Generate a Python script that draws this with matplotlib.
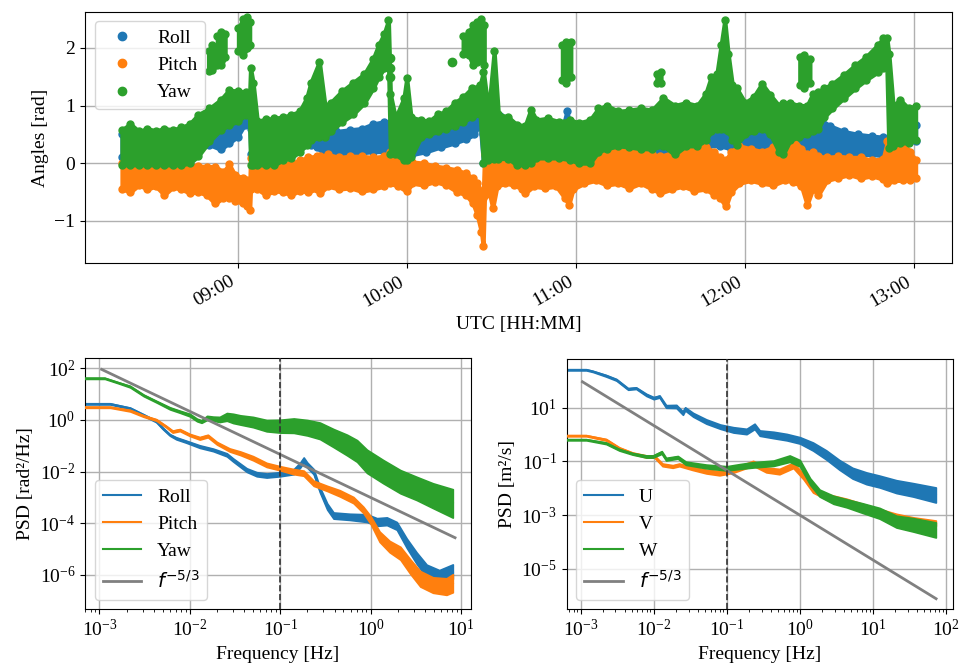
import numpy as np
import matplotlib
matplotlib.use("Agg")
import matplotlib.pyplot as plt
import matplotlib.dates as mdates
from matplotlib.lines import Line2D

plt.rcParams['font.family'] = ['Liberation Serif', 'DejaVu Serif']
plt.rcParams['font.size'] = 14
plt.rcParams['mathtext.fontset'] = 'dejavusans'

# ---------------- top panel data (minutes after 08:00 UTC, angles in rad) ----------------
roll_t = [19, 25, 30, 35, 40, 45, 50, 54, 57, 60, 62.5, 64.2, 64.7, 68, 72, 76, 80, 83, 86, 88, 91, 95,
          100, 104, 108, 112, 114, 118, 122, 127, 132, 137, 141, 144, 146, 147.2, 149, 153, 157, 162,
          167, 172, 175, 176.8, 178.5, 183, 190, 195, 200, 205, 208, 212, 218, 223, 227, 231, 235, 240,
          245, 250, 255, 260, 264, 267, 270, 275, 280, 285, 289, 293, 297, 300.5]
roll_lo = [0.10, 0.10, 0.15, 0.15, 0.20, 0.20, 0.32, 0.24, 0.35, 0.46, 0.67, 0.75, 0.15, 0.20, 0.25, 0.20,
           0.25, 0.30, 0.32, 0.28, 0.15, 0.15, 0.15, 0.18, 0.20, 0.20, 0.18, 0.15, 0.15, 0.20, 0.28, 0.35,
           0.42, 0.50, 0.70, 0.00, 0.10, 0.15, 0.15, 0.10, 0.09, 0.10, 0.10, 0.20, 0.10, 0.12, 0.15, 0.20,
           0.20, 0.15, 0.03, 0.05, 0.20, 0.20, 0.30, 0.30, 0.25, 0.21, 0.25, 0.25, 0.25, 0.30, 0.20, 0.20,
           0.18, 0.15, 0.15, 0.15, 0.13, 0.20, 0.35, 0.38]
roll_hi = [0.50, 0.50, 0.50, 0.50, 0.55, 0.60, 0.70, 0.70, 0.80, 0.90, 0.98, 1.04, 0.60, 0.60, 0.65, 0.60,
           0.70, 0.84, 0.84, 0.70, 0.50, 0.55, 0.58, 0.60, 0.68, 0.72, 0.70, 0.60, 0.55, 0.55, 0.70, 0.85,
           0.95, 1.20, 1.33, 0.50, 0.80, 0.82, 0.70, 0.50, 0.43, 0.50, 0.55, 0.90, 0.55, 0.50, 0.55, 0.60,
           0.55, 0.50, 0.45, 0.55, 0.60, 0.55, 0.70, 0.78, 0.70, 0.73, 0.65, 0.60, 0.75, 0.78, 0.78, 0.75,
           0.65, 0.55, 0.50, 0.47, 0.45, 0.50, 0.65, 0.67]

pitch_t = [19, 22, 25, 28, 31, 34, 37, 40, 43, 46, 49, 52, 55, 57, 59, 62, 63.5, 64.3, 64.6, 67, 70, 73,
           76, 79, 82, 85, 88, 89.2, 92, 96, 100, 104, 108, 112, 114, 117, 120, 122, 126, 130, 134, 138,
           141, 143.5, 145, 146.5, 147.1, 147.6, 149, 150.5, 152, 155, 158, 161, 162, 165, 169, 173, 176,
           177.5, 179, 183, 187, 191, 195, 199, 203, 207, 210, 214, 218, 222, 226, 229, 231, 233.2, 235,
           238, 242, 246, 250, 254, 257, 260, 262, 264, 266, 269, 273, 277, 281, 285, 289, 290.5, 293,
           296, 298.5, 300.5]
pitch_lo = [-0.45, -0.50, -0.38, -0.45, -0.40, -0.55, -0.42, -0.45, -0.52, -0.50, -0.55, -0.70, -0.60,
            -0.60, -0.65, -0.70, -0.75, -0.81, -0.45, -0.45, -0.55, -0.48, -0.50, -0.55, -0.48, -0.50,
            -0.45, -0.52, -0.40, -0.45, -0.43, -0.49, -0.45, -0.40, -0.35, -0.40, -0.49, -0.35, -0.38,
            -0.32, -0.38, -0.50, -0.55, -0.70, -0.90, -1.20, -1.44, -0.55, -0.45, -0.78, -0.40, -0.35,
            -0.38, -0.45, -0.52, -0.40, -0.43, -0.40, -0.60, -0.72, -0.45, -0.35, -0.30, -0.38, -0.35,
            -0.43, -0.35, -0.45, -0.52, -0.45, -0.40, -0.48, -0.45, -0.55, -0.60, -0.75, -0.50, -0.35,
            -0.30, -0.35, -0.38, -0.30, -0.32, -0.40, -0.72, -0.45, -0.55, -0.30, -0.25, -0.20, -0.26,
            -0.22, -0.28, -0.35, -0.30, -0.30, -0.30, -0.25]
pitch_hi = [0.00, 0.00, -0.02, 0.00, 0.00, -0.02, 0.00, 0.00, -0.03, -0.05, -0.06, -0.06, -0.15, -0.02,
            -0.20, -0.26, -0.30, -0.38, 0.09, -0.02, -0.05, 0.00, -0.02, 0.00, 0.05, 0.10, 0.12, 0.12,
            0.15, 0.10, 0.12, 0.12, 0.10, 0.12, 0.20, 0.18, 0.15, 0.02, 0.00, -0.05, -0.08, -0.12, -0.18,
            -0.26, -0.35, -0.50, -0.61, 0.15, 0.12, 0.05, 0.05, 0.00, 0.05, 0.05, 0.00, 0.09, 0.05, 0.08,
            0.00, 0.00, 0.10, 0.15, 0.20, 0.22, 0.26, 0.20, 0.22, 0.15, 0.12, 0.18, 0.28, 0.32, 0.28,
            0.20, 0.10, 0.05, 0.20, 0.30, 0.25, 0.20, 0.28, 0.20, 0.43, 0.25, 0.15, 0.20, 0.12, 0.10,
            0.12, 0.10, 0.10, 0.05, 0.08, 0.38, 0.32, 0.35, 0.20, 0.05]

yaw_t = [19, 22, 25, 28, 31, 34, 37, 40, 43, 46, 50, 54, 57, 60, 63, 64.2, 64.6, 65.5, 67, 70, 73, 76,
         79, 82, 84.5, 86, 89, 91, 93, 97, 101, 105, 108, 110, 112, 113.5, 114.2, 116, 119, 120, 121.5,
         125, 128, 131, 134, 137, 140, 143, 146, 147.2, 149, 151, 152.5, 156, 159, 162, 164, 166, 170,
         174, 178, 181, 185, 188, 191, 195, 199, 203, 207, 211, 215, 219, 223, 226, 228, 230, 231.5,
         232.8, 234, 235.5, 237, 240, 243, 246, 249, 252, 253.5, 256, 259, 262, 264, 266, 268, 271,
         275, 279, 283, 287, 289, 290.3, 291, 292.5, 295, 298, 300.5]
yaw_lo = [-0.03, -0.03, -0.03, -0.03, -0.03, -0.03, -0.03, -0.03, 0.00, 0.12, 0.38, 0.58, 0.66, 0.73,
          0.84, 0.85, -0.03, -0.03, -0.03, -0.03, -0.03, 0.05, 0.09, 0.20, 0.32, 0.40, 0.45, 0.45, 0.55,
          0.72, 0.85, 1.05, 1.30, 1.50, 1.65, 1.80, 0.15, 0.15, 0.05, 0.05, 0.10, 0.45, 0.50, 0.55, 0.60,
          0.65, 0.72, 0.80, 0.85, 0.00, 0.05, 0.08, 0.08, 0.08, -0.03, -0.03, 0.00, 0.09, 0.09, 0.09,
          0.06, 0.00, 0.00, 0.20, 0.25, 0.30, 0.28, 0.25, 0.25, 0.30, 0.15, 0.30, 0.30, 0.40, 0.55, 0.60,
          0.60, 0.60, 0.55, 0.40, 0.32, 0.50, 0.55, 0.60, 0.50, 0.20, 0.15, 0.40, 0.45, 0.50, 0.55, 0.60,
          0.80, 0.95, 1.13, 1.30, 1.45, 1.58, 1.65, 1.65, 0.26, 0.30, 0.35, 0.35, 0.40]
yaw_hi = [0.58, 0.68, 0.55, 0.60, 0.56, 0.60, 0.58, 0.62, 0.68, 0.84, 0.95, 1.10, 1.27, 1.25, 1.24,
          1.10, 1.65, 1.40, 0.73, 0.76, 0.78, 0.80, 0.84, 0.90, 1.13, 1.40, 1.76, 1.00, 1.05, 1.25, 1.40,
          1.55, 1.80, 2.05, 2.25, 2.48, 1.20, 0.78, 1.13, 1.47, 0.80, 0.75, 0.73, 0.85, 0.90, 1.05, 1.15,
          1.30, 1.35, 1.59, 0.90, 1.94, 0.85, 0.80, 0.67, 0.65, 0.93, 0.75, 0.78, 0.72, 0.75, 0.70, 0.75,
          0.95, 1.00, 0.90, 0.92, 0.95, 0.92, 1.13, 1.00, 1.05, 1.00, 1.20, 1.50, 1.55, 2.05, 2.48, 1.90,
          1.35, 1.30, 1.05, 1.15, 1.38, 1.18, 1.00, 1.05, 1.05, 1.00, 1.00, 1.20, 1.24, 1.30, 1.38, 1.53,
          1.70, 1.85, 2.05, 2.17, 2.17, 1.90, 1.00, 1.10, 0.95, 1.00]

# detached yaw clusters (NaN separates clusters)
yaw_blob_t = [49.7, 51.0, 52.7, np.nan, 52.8, 54.3, 55.6, np.nan, 60.3, 62.0, 63.5, 64.3, np.nan,
              140.0, 142.0, 143.5, 145.0, 146.5, 147.5, np.nan, 175.2, 176.5, 178.2, np.nan,
              208.7, 210.2, np.nan, 259.4, 261.0, 263.0]
yaw_blob_lo = [1.60, 1.62, 1.70, np.nan, 1.75, 1.70, 1.85, np.nan, 1.95, 1.88, 2.00, 2.05, np.nan,
               1.90, 1.88, 1.70, 1.75, 1.80, 1.70, np.nan, 1.45, 1.40, 1.50, np.nan,
               1.40, 1.40, np.nan, 1.35, 1.30, 1.40]
yaw_blob_hi = [1.95, 2.05, 2.00, np.nan, 2.20, 2.28, 2.25, np.nan, 2.35, 2.50, 2.54, 2.45, np.nan,
               2.20, 2.28, 2.40, 2.45, 2.51, 2.40, np.nan, 2.05, 2.11, 2.10, np.nan,
               1.55, 1.59, np.nan, 1.85, 1.88, 1.80]
yaw_dot_t = [114.1, 114.1, 114.1, 136.0]
yaw_dot_v = [1.82, 1.65, 1.50, 1.76]

# ---------------- PSD data: log10(frequency [Hz]), log10(PSD), half band width (decades) ----------------
ang_roll_lf = [-3.16, -2.88, -2.66, -2.51, -2.37, -2.30, -2.22, -2.15, -2.04, -1.89, -1.74, -1.59, -1.52,
               -1.37, -1.26, -1.15, -1.0, -0.85, -0.78, -0.74, -0.70, -0.63, -0.56, -0.48, -0.41, -0.23,
               -0.04, 0.07, 0.18, 0.29, 0.40, 0.51, 0.62, 0.76, 0.91]
ang_roll_lp = [0.62, 0.62, 0.45, 0.19, -0.06, -0.32, -0.58, -0.71, -0.84, -1.03, -1.16, -1.35, -1.55,
               -1.94, -2.10, -2.15, -2.10, -2.00, -1.75, -1.55, -1.75, -2.00, -2.71, -3.35, -3.70, -3.75,
               -3.80, -3.95, -3.92, -4.10, -4.77, -5.35, -5.85, -6.06, -5.87]
ang_roll_hw = [0.02, 0.02, 0.03, 0.03, 0.03, 0.03, 0.03, 0.04, 0.04, 0.05, 0.05, 0.06, 0.06, 0.07, 0.08,
               0.08, 0.08, 0.10, 0.10, 0.10, 0.10, 0.10, 0.10, 0.12, 0.12, 0.12, 0.15, 0.15, 0.15, 0.15,
               0.18, 0.22, 0.25, 0.25, 0.28]

ang_pitch_lf = [-3.16, -2.88, -2.66, -2.51, -2.37, -2.26, -2.19, -2.11, -2.0, -1.89, -1.80, -1.70, -1.56,
                -1.44, -1.30, -1.15, -1.0, -0.85, -0.74, -0.63, -0.48, -0.34, -0.19, -0.08, 0.0, 0.10,
                0.21, 0.33, 0.44, 0.55, 0.69, 0.84, 0.91]
ang_pitch_lp = [0.49, 0.49, 0.36, 0.15, 0.0, -0.26, -0.45, -0.39, -0.58, -0.71, -0.62, -0.90, -1.16,
                -1.29, -1.48, -1.74, -1.87, -2.00, -2.06, -2.45, -2.65, -2.84, -3.10, -3.48, -3.87, -4.52,
                -4.90, -5.16, -5.68, -6.15, -6.39, -6.45, -6.32]
ang_pitch_hw = [0.02, 0.02, 0.03, 0.03, 0.03, 0.03, 0.04, 0.04, 0.04, 0.05, 0.05, 0.05, 0.06, 0.07, 0.08,
                0.08, 0.08, 0.10, 0.10, 0.10, 0.10, 0.12, 0.12, 0.12, 0.15, 0.20, 0.22, 0.25, 0.28, 0.30,
                0.30, 0.32, 0.35]

ang_yaw_lf = [-3.16, -2.94, -2.80, -2.66, -2.51, -2.37, -2.22, -2.11, -2.0, -1.92, -1.87, -1.81, -1.74,
              -1.67, -1.59, -1.52, -1.44, -1.30, -1.15, -1.0, -0.85, -0.70, -0.56, -0.41, -0.26, -0.15,
              -0.04, 0.14, 0.33, 0.51, 0.69, 0.91]
ang_yaw_lp = [1.61, 1.61, 1.45, 1.29, 0.95, 0.71, 0.45, 0.32, 0.19, 0.0, -0.06, 0.08, 0.05, 0.02, 0.12,
              0.06, 0.0, -0.08, -0.22, -0.24, -0.22, -0.30, -0.42, -0.70, -0.97, -1.20, -1.60, -2.00,
              -2.39, -2.65, -2.93, -3.23]
ang_yaw_hw = [0.02, 0.02, 0.02, 0.03, 0.03, 0.03, 0.04, 0.04, 0.05, 0.05, 0.05, 0.08, 0.08, 0.10, 0.15,
              0.18, 0.18, 0.20, 0.22, 0.25, 0.28, 0.30, 0.32, 0.35, 0.40, 0.42, 0.45, 0.45, 0.45, 0.45,
              0.48, 0.55]

wind_u_lf = [-3.19, -2.92, -2.83, -2.65, -2.51, -2.35, -2.24, -2.10, -2.0, -1.92, -1.83, -1.69, -1.60,
             -1.57, -1.46, -1.28, -1.09, -0.91, -0.73, -0.62, -0.55, -0.36, -0.18, 0.0, 0.18, 0.36, 0.54,
             0.72, 0.91, 1.09, 1.32, 1.55, 1.86]
wind_u_lp = [2.40, 2.40, 2.34, 2.18, 2.03, 1.69, 1.72, 1.47, 1.35, 1.41, 1.04, 1.04, 0.79, 0.95, 0.73,
             0.48, 0.29, 0.17, 0.11, 0.30, 0.05, -0.02, -0.10, -0.22, -0.45, -0.76, -1.13, -1.44, -1.63,
             -1.75, -1.94, -2.06, -2.25]
wind_u_hw = [0.02, 0.02, 0.02, 0.03, 0.03, 0.03, 0.03, 0.04, 0.04, 0.04, 0.05, 0.06, 0.06, 0.06, 0.07,
             0.08, 0.08, 0.10, 0.10, 0.10, 0.10, 0.12, 0.12, 0.12, 0.15, 0.17, 0.18, 0.20, 0.22, 0.22,
             0.24, 0.25, 0.28]

wind_v_lf = [-3.19, -2.92, -2.65, -2.47, -2.29, -2.10, -1.99, -1.88, -1.74, -1.65, -1.47, -1.28, -1.10,
             -0.92, -0.64, -0.46, -0.28, -0.09, 0.05, 0.18, 0.36, 0.64, 0.86, 1.09, 1.32, 1.55, 1.86]
wind_v_lp = [-0.05, -0.05, -0.20, -0.51, -0.70, -0.82, -0.82, -1.13, -1.19, -1.13, -1.26, -1.38, -1.44,
             -1.35, -1.07, -1.32, -1.38, -1.15, -1.57, -2.06, -2.31, -2.49, -2.68, -2.87, -3.05, -3.18,
             -3.30]
wind_v_hw = [0.02, 0.02, 0.03, 0.03, 0.03, 0.04, 0.04, 0.05, 0.05, 0.05, 0.06, 0.07, 0.08, 0.08, 0.09,
             0.09, 0.10, 0.10, 0.10, 0.10, 0.10, 0.10, 0.10, 0.10, 0.10, 0.10, 0.10]

wind_w_lf = [-3.19, -2.92, -2.65, -2.47, -2.29, -2.10, -2.01, -1.89, -1.83, -1.67, -1.56, -1.28, -1.0,
             -0.82, -0.64, -0.36, -0.14, 0.0, 0.14, 0.27, 0.46, 0.64, 0.86, 1.09, 1.32, 1.55, 1.86]
wind_w_lp = [-0.20, -0.20, -0.33, -0.57, -0.72, -0.82, -0.82, -0.67, -0.92, -0.85, -1.07, -1.19, -1.26,
             -1.19, -1.13, -1.07, -0.90, -1.07, -1.75, -2.18, -2.43, -2.56, -2.74, -2.93, -3.24, -3.36,
             -3.55]
wind_w_hw = [0.02, 0.02, 0.03, 0.03, 0.03, 0.04, 0.04, 0.05, 0.05, 0.05, 0.06, 0.07, 0.08, 0.09, 0.10,
             0.10, 0.12, 0.12, 0.12, 0.13, 0.15, 0.15, 0.18, 0.20, 0.22, 0.25, 0.28]

# f^-5/3 reference line end points (Hz, PSD)
ref_ang_f = [1.06e-3, 8.6]
ref_ang_p = [90.6, 2.77e-5]
ref_wind_f = [1.06e-3, 73.0]
ref_wind_p = [90.6, 7.85e-7]
cutoff_f = 0.1

angle_labels = ['Roll', 'Pitch', 'Yaw']
wind_labels = ['U', 'V', 'W']
colors = ['#1f77b4', '#ff7f0e', '#2ca02c']

# ---------------- figure ----------------
fig = plt.figure(figsize=(9.62, 6.69), dpi=100)
ax1 = fig.add_axes([0.0884, 0.6064, 0.9015, 0.3761])
ax2 = fig.add_axes([0.0884, 0.0892, 0.4012, 0.3752])
ax3 = fig.add_axes([0.5891, 0.0892, 0.4012, 0.3744])

base = np.datetime64('2021-06-01T08:00:00')


def to_num(tmin):
    arr = np.asarray(tmin, dtype=float)
    secs = np.round(arr * 60).astype('int64')
    return mdates.date2num(base + secs.astype('timedelta64[s]'))


def band(ax, t, lo, hi, color, z):
    x = to_num(t)
    ax.fill_between(x, lo, hi, color=color, lw=3.0, edgecolor=color, zorder=z)
    ax.plot(x, lo, 'o', color=color, ms=5, zorder=z)
    ax.plot(x, hi, 'o', color=color, ms=5, zorder=z)


band(ax1, roll_t, roll_lo, roll_hi, colors[0], 2)
band(ax1, pitch_t, pitch_lo, pitch_hi, colors[1], 3)
band(ax1, yaw_t, yaw_lo, yaw_hi, colors[2], 4)

bt = np.array(yaw_blob_t, dtype=float)
blo = np.array(yaw_blob_lo, dtype=float)
bhi = np.array(yaw_blob_hi, dtype=float)
splits = np.where(np.isnan(bt))[0]
start = 0
for s in list(splits) + [len(bt)]:
    seg = slice(start, s)
    band(ax1, bt[seg], blo[seg], bhi[seg], colors[2], 4)
    start = s + 1
ax1.plot(to_num(yaw_dot_t), yaw_dot_v, 'o', color=colors[2], ms=6, zorder=4)

ax1.set_xlim(to_num([5.9])[0], to_num([313.5])[0])
ax1.set_ylim(-1.74, 2.63)
ax1.xaxis.set_major_locator(mdates.HourLocator())
ax1.xaxis.set_major_formatter(mdates.DateFormatter('%H:%M'))
plt.setp(ax1.get_xticklabels(), rotation=30, ha='right')
ax1.set_yticks([-1, 0, 1, 2])
ax1.set_ylabel('Angles [rad]')
ax1.set_xlabel('UTC [HH:MM]')
ax1.grid(True, lw=1.0)
handles = [Line2D([], [], marker='o', ls='', color=c, ms=6) for c in colors]
ax1.legend(handles, angle_labels, loc='upper left')


def psd(ax, lf, lp, hw, color, label, z):
    f = 10 ** np.asarray(lf)
    c = np.asarray(lp)
    h = np.asarray(hw)
    ax.fill_between(f, 10 ** (c - h), 10 ** (c + h), color=color, lw=1.2, edgecolor=color, zorder=z)
    ax.plot(f, 10 ** c, color=color, lw=1.5, label=label, zorder=z)


psd(ax2, ang_roll_lf, ang_roll_lp, ang_roll_hw, colors[0], angle_labels[0], 2)
psd(ax2, ang_pitch_lf, ang_pitch_lp, ang_pitch_hw, colors[1], angle_labels[1], 3)
psd(ax2, ang_yaw_lf, ang_yaw_lp, ang_yaw_hw, colors[2], angle_labels[2], 4)
ax2.plot(ref_ang_f, ref_ang_p, color='gray', lw=2, label=r'$f^{-5/3}$', zorder=5)
ax2.axvline(cutoff_f, color='#333333', ls='--', lw=1.2, zorder=6)
ax2.set_xscale('log')
ax2.set_yscale('log')
ax2.set_xlim(10 ** -3.159, 10 ** 1.111)
ax2.set_ylim(10 ** -7.33, 10 ** 2.387)
ax2.set_yticks([1e-6, 1e-4, 1e-2, 1e0, 1e2])
ax2.yaxis.set_minor_locator(matplotlib.ticker.NullLocator())
ax2.set_xlabel('Frequency [Hz]')
ax2.set_ylabel('PSD [rad²/Hz]')
ax2.grid(True, lw=1.0)
ax2.legend(loc='lower left')

psd(ax3, wind_u_lf, wind_u_lp, wind_u_hw, colors[0], wind_labels[0], 2)
psd(ax3, wind_v_lf, wind_v_lp, wind_v_hw, colors[1], wind_labels[1], 3)
psd(ax3, wind_w_lf, wind_w_lp, wind_w_hw, colors[2], wind_labels[2], 4)
ax3.plot(ref_wind_f, ref_wind_p, color='gray', lw=2, label=r'$f^{-5/3}$', zorder=5)
ax3.axvline(cutoff_f, color='#333333', ls='--', lw=1.2, zorder=6)
ax3.set_xscale('log')
ax3.set_yscale('log')
ax3.set_xlim(10 ** -3.19, 10 ** 2.09)
ax3.set_ylim(10 ** -6.5, 10 ** 2.81)
ax3.set_yticks([1e-5, 1e-3, 1e-1, 1e1])
ax3.yaxis.set_minor_locator(matplotlib.ticker.NullLocator())
ax3.set_xlabel('Frequency [Hz]')
ax3.set_ylabel('PSD [m²/s]')
ax3.grid(True, lw=1.0)
ax3.legend(loc='lower left')

fig.savefig('out.png', dpi=100)
